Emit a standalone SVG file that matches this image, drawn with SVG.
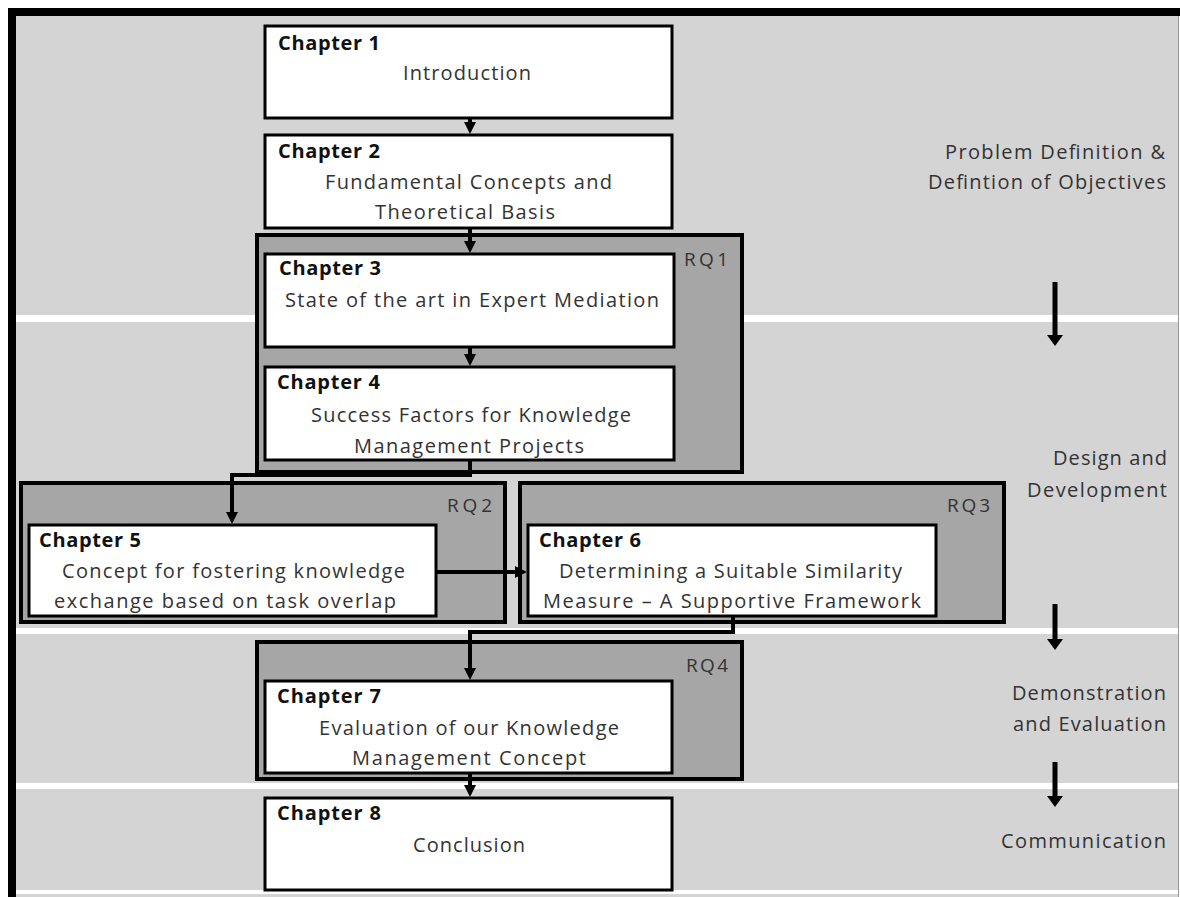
<svg xmlns="http://www.w3.org/2000/svg" width="1180" height="897" viewBox="0 0 1180 897">
  <style>
    .rq { fill: #a6a6a6; stroke: #000; stroke-width: 4; }
    .box { fill: #fff; stroke: #000; stroke-width: 3; }
    .title { font-family: "Open Sans", "Liberation Sans", sans-serif; font-weight: bold; font-size: 20px; fill: #111; }
    .body { font-family: "Open Sans", "Liberation Sans", sans-serif; font-size: 20px; fill: #333; }
    .tag { font-family: "Open Sans", "Liberation Sans", sans-serif; font-size: 19px; fill: #333; }
    .phase { font-family: "Open Sans", "Liberation Sans", sans-serif; font-size: 20px; fill: #333; }
    .wire { fill: none; stroke: #000; stroke-width: 4; }
    .flow { fill: none; stroke: #000; stroke-width: 5; }
  </style>
  <defs>
    <marker id="head" viewBox="0 0 12 12" refX="4" refY="6" markerWidth="12" markerHeight="12" markerUnits="userSpaceOnUse" orient="auto">
      <path d="M0,0 L12,6 L0,12 z" fill="#000"/>
    </marker>
    <marker id="bighead" viewBox="0 0 16 16" refX="3" refY="8" markerWidth="16" markerHeight="16" markerUnits="userSpaceOnUse" orient="auto">
      <path d="M0,0 L11,8 L0,16 z" fill="#000"/>
    </marker>
  </defs>

  <!-- page and frame -->
  <rect x="0" y="0" width="1180" height="897" fill="#fff"/>
  <rect x="16" y="16" width="1162" height="881" fill="#d4d4d4"/>
  <line x1="1178.5" y1="16" x2="1178.5" y2="897" stroke="#9a9a9a" stroke-width="1"/>
  <g id="phase-separators" fill="#fff">
    <rect x="16" y="315" width="1162" height="7"/>
    <rect x="16" y="628" width="1162" height="6"/>
    <rect x="16" y="783" width="1162" height="6"/>
    <rect x="16" y="890" width="1162" height="4"/>
  </g>
  <rect x="8" y="8" width="1172" height="8" fill="#000"/>
  <rect x="8" y="8" width="8" height="889" fill="#000"/>

  <!-- research question groups -->
  <g id="rq1">
    <rect class="rq" x="257" y="235" width="485" height="237"/>
    <text class="tag" x="684" y="266" textLength="44">RQ1</text>
  </g>
  <g id="rq2">
    <rect class="rq" x="21" y="483" width="484" height="139"/>
    <text class="tag" x="447" y="512" textLength="45">RQ2</text>
  </g>
  <g id="rq3">
    <rect class="rq" x="520" y="483" width="484" height="139"/>
    <text class="tag" x="947" y="512" textLength="43">RQ3</text>
  </g>
  <g id="rq4">
    <rect class="rq" x="257" y="642" width="485" height="137"/>
    <text class="tag" x="686" y="672" textLength="42">RQ4</text>
  </g>

  <!-- chapters -->
  <g id="ch1">
    <rect class="box" x="265" y="26" width="407" height="92"/>
    <text class="title" x="278" y="50" textLength="102">Chapter 1</text>
    <text class="body" x="403" y="80" textLength="128">Introduction</text>
  </g>
  <g id="ch2">
    <rect class="box" x="265" y="135" width="407" height="93"/>
    <text class="title" x="278" y="158" textLength="102">Chapter 2</text>
    <text class="body" x="325" y="189" textLength="287">Fundamental Concepts and</text>
    <text class="body" x="375" y="219" textLength="180">Theoretical Basis</text>
  </g>
  <g id="ch3">
    <rect class="box" x="265" y="254" width="409" height="93"/>
    <text class="title" x="279" y="275" textLength="102">Chapter 3</text>
    <text class="body" x="285" y="307" textLength="374">State of the art in Expert Mediation</text>
  </g>
  <g id="ch4">
    <rect class="box" x="265" y="367" width="409" height="93"/>
    <text class="title" x="277" y="389" textLength="103">Chapter 4</text>
    <text class="body" x="311" y="422" textLength="320">Success Factors for Knowledge</text>
    <text class="body" x="354" y="453" textLength="230">Management Projects</text>
  </g>
  <g id="ch5">
    <rect class="box" x="29" y="525" width="407" height="91"/>
    <text class="title" x="39" y="547" textLength="102">Chapter 5</text>
    <text class="body" x="62" y="578" textLength="343">Concept for fostering knowledge</text>
    <text class="body" x="54" y="608" textLength="342">exchange based on task overlap</text>
  </g>
  <g id="ch6">
    <rect class="box" x="528" y="525" width="408" height="91"/>
    <text class="title" x="539" y="547" textLength="102">Chapter 6</text>
    <text class="body" x="559" y="578" textLength="343">Determining a Suitable Similarity</text>
    <text class="body" x="543" y="608" textLength="378">Measure – A Supportive Framework</text>
  </g>
  <g id="ch7">
    <rect class="box" x="265" y="681" width="407" height="92"/>
    <text class="title" x="277" y="703" textLength="104">Chapter 7</text>
    <text class="body" x="319" y="735" textLength="300">Evaluation of our Knowledge</text>
    <text class="body" x="352" y="765" textLength="234">Management Concept</text>
  </g>
  <g id="ch8">
    <rect class="box" x="265" y="798" width="407" height="92"/>
    <text class="title" x="277" y="820" textLength="104">Chapter 8</text>
    <text class="body" x="413" y="852" textLength="112">Conclusion</text>
  </g>

  <!-- chapter flow -->
  <g id="connectors">
    <path class="wire" d="M470,118 V126" marker-end="url(#head)"/>
    <path class="wire" d="M470,228 V245" marker-end="url(#head)"/>
    <path class="wire" d="M470,347 V358" marker-end="url(#head)"/>
    <path class="wire" d="M470,460 V475 H232 V516" marker-end="url(#head)"/>
    <path class="wire" d="M436,572 H519" marker-end="url(#head)"/>
    <path class="wire" d="M733,616 V632 H470 V672" marker-end="url(#head)"/>
    <path class="wire" d="M470,773 V789" marker-end="url(#head)"/>
  </g>

  <!-- design-science phases -->
  <g id="phases">
    <text class="phase" x="945" y="159" textLength="220">Problem Definition &amp;</text>
    <text class="phase" x="928" y="189" textLength="238">Defintion of Objectives</text>
    <text class="phase" x="1053" y="465" textLength="114">Design and</text>
    <text class="phase" x="1027" y="497" textLength="140">Development</text>
    <text class="phase" x="1012" y="700" textLength="154">Demonstration</text>
    <text class="phase" x="1013" y="731" textLength="153">and Evaluation</text>
    <text class="phase" x="1001" y="848" textLength="165">Communication</text>
  </g>
  <g id="phase-arrows">
    <path class="flow" d="M1055,282 V338" marker-end="url(#bighead)"/>
    <path class="flow" d="M1055,604 V642" marker-end="url(#bighead)"/>
    <path class="flow" d="M1055,762 V799" marker-end="url(#bighead)"/>
  </g>
</svg>
